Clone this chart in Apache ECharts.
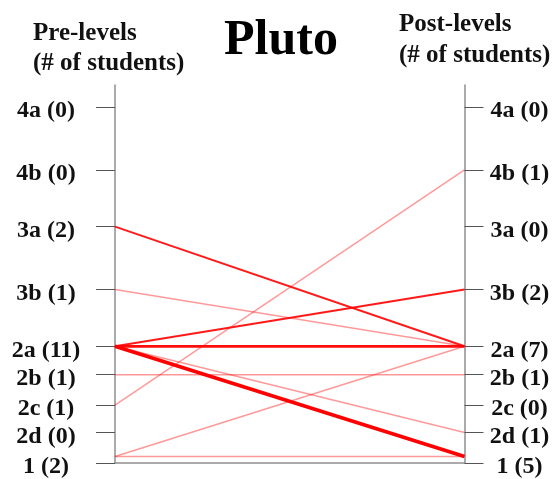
<!DOCTYPE html>
<html>
<head>
<meta charset="utf-8">
<style>html,body{margin:0;padding:0;background:#fff;}#c{width:556px;height:479px;}</style>
<script src="https://cdn.jsdelivr.net/npm/echarts@6/dist/echarts.min.js"></script>
</head>
<body>
<div id="c"></div>
<script>
// Levels (top to bottom) and their position on the vertical scale
const levels = ['4a', '4b', '3a', '3b', '2a', '2b', '2c', '2d', '1'];
const levelPos = [357, 294, 237, 174, 117, 88.5, 58, 30.5, 6.5];   // where lines meet the axes
const tickPos = [357, 294, 237, 174, 117, 88.5, 58, 30.5, 0];      // where ticks/labels sit
const preCounts = [0, 0, 2, 1, 11, 1, 1, 0, 2];
const postCounts = [0, 1, 0, 2, 7, 1, 0, 1, 5];
// Transitions: pre level -> post level, number of students
const flowFrom = ['3a', '3b', '2a', '2a', '2a', '2a', '2b', '2c', '1', '1'];
const flowTo   = ['2a', '2a', '3b', '2a', '1', '2d', '2b', '4b', '2a', '1'];
const flowCount = [2, 1, 2, 3, 4, 1, 1, 1, 1, 1];

const FONT = '"Liberation Serif", "Times New Roman", serif';

function labelFor(counts) {
  return function (v) {
    const i = tickPos.indexOf(v);
    return i < 0 ? '' : levels[i] + ' (' + counts[i] + ')';
  };
}
function styleFor(n) {
  if (n <= 1) return { width: 1.5, color: 'rgba(255,0,0,0.4)' };
  if (n === 2) return { width: 2, color: 'rgba(255,0,0,0.9)' };
  if (n === 3) return { width: 2.8, color: 'rgba(255,0,0,0.95)' };
  return { width: 3.8, color: 'rgba(255,0,0,1)' };
}

const series = flowFrom.map((f, k) => {
  const s = styleFor(flowCount[k]);
  return {
    type: 'line',
    symbol: 'none',
    silent: true,
    z: 2 + flowCount[k],
    lineStyle: { width: s.width, color: s.color },
    data: [[0, levelPos[levels.indexOf(f)]], [1, levelPos[levels.indexOf(flowTo[k])]]]
  };
});

function yAxisCfg(pos, counts, margin) {
  return {
    type: 'value', position: pos, min: 0, max: 379,
    axisLine: { show: true, lineStyle: { color: '#8f8f8f', width: 1.5 } },
    axisTick: { show: true, inside: false, length: 19, customValues: tickPos,
      lineStyle: { color: '#555', width: 1 } },
    axisLabel: { show: true, customValues: tickPos, formatter: labelFor(counts),
      margin: margin, align: 'center', verticalAlign: 'top', lineHeight: 8,
      color: '#111', fontFamily: FONT, fontWeight: 'bold', fontSize: 24 },
    splitLine: { show: false }
  };
}

const chart = echarts.init(document.getElementById('c'), null, { renderer: 'canvas' });
chart.setOption({
  animation: false,
  backgroundColor: '#fff',
  grid: { left: 115, right: 91.5, top: 85, bottom: 15, containLabel: false },
  xAxis: {
    type: 'value', min: 0, max: 1,
    axisLine: { show: true, onZero: false, lineStyle: { color: '#8f8f8f', width: 1.5 } },
    axisTick: { show: false }, axisLabel: { show: false }, splitLine: { show: false }
  },
  yAxis: [yAxisCfg('left', preCounts, 69), yAxisCfg('right', postCounts, 55)],
  graphic: [
    { type: 'text', x: 281, y: 41, style: { text: 'Pluto', font: 'bold 50px ' + FONT,
      fill: '#000', textAlign: 'center', textVerticalAlign: 'middle' } },
    { type: 'text', x: 33, y: 34, style: { text: 'Pre-levels', font: 'bold 25px ' + FONT,
      fill: '#111', textAlign: 'left', textVerticalAlign: 'middle' } },
    { type: 'text', x: 33, y: 64, style: { text: '(# of students)', font: 'bold 25px ' + FONT,
      fill: '#111', textAlign: 'left', textVerticalAlign: 'middle' } },
    { type: 'text', x: 399, y: 25, style: { text: 'Post-levels', font: 'bold 25px ' + FONT,
      fill: '#111', textAlign: 'left', textVerticalAlign: 'middle' } },
    { type: 'text', x: 399, y: 56, style: { text: '(# of students)', font: 'bold 25px ' + FONT,
      fill: '#111', textAlign: 'left', textVerticalAlign: 'middle' } }
  ],
  series: series
});
</script>
</body>
</html>
